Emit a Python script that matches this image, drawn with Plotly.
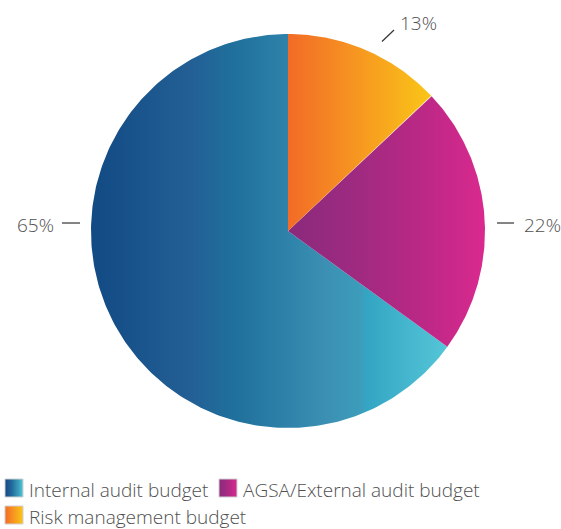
import numpy as np
import plotly.graph_objects as go

# Budget split (percent)
labels = ["Internal audit budget", "AGSA/External audit budget", "Risk management budget"]
values = [65, 22, 13]

# Horizontal gradient colour stops for each slice
scales = [
    [[0, "#124a84"], [0.28, "#235f95"], [0.40, "#1f709c"], [0.53, "#2c80a8"],
     [0.66, "#3b90b3"], [0.76, "#3d9dbb"], [0.77, "#33a5c3"], [1, "#55c6d7"]],
    [[0, "#8a2a7c"], [0.34, "#9e2a80"], [0.67, "#ba2885"], [1, "#d9298f"]],
    [[0, "#f26b27"], [0.40, "#f68f22"], [0.70, "#f8aa1d"], [1, "#fac617"]],
]

W, H = 561, 529
CX, CY, R = 288, 231, 197
FONT = dict(family="Open Sans", size=19, color="#505050", weight=300)

fig = go.Figure()

# Slices run counter-clockwise from 12 o'clock, in data order
total = sum(values)
start = 0.0
for lab, val, cs in zip(labels, values, scales):
    sweep = 2 * np.pi * val / total
    th = np.linspace(start, start - sweep, 240)  # clockwise-from-top angle, decreasing
    xs = np.concatenate([[CX], CX + R * np.sin(th), [CX]])
    ys = np.concatenate([[CY], CY - R * np.cos(th), [CY]])
    fig.add_trace(go.Scatter(
        x=xs, y=ys, mode="lines", fill="toself",
        line=dict(width=0),
        fillgradient=dict(type="horizontal", colorscale=cs),
        name=lab, showlegend=False, hoverinfo="name",
    ))
    start -= sweep

# Percentage labels with short leader lines
pct_pos = {0: (35, 224.5), 1: (542, 224.5), 2: (418.5, 23)}
leaders = {0: (62, 223, 80, 223), 1: (497, 223, 514, 223), 2: (382, 41.5, 394, 30)}
for i, val in enumerate(values):
    x, y = pct_pos[i]
    fig.add_annotation(x=x, y=y, text=f"{val}%", showarrow=False,
                       xanchor="center", yanchor="middle", font=FONT)
    x0, y0, x1, y1 = leaders[i]
    fig.add_shape(type="line", x0=x0, y0=y0, x1=x1, y1=y1,
                  line=dict(color="#333333", width=1.2))

# Legend: gradient swatch + label
legend_pos = [(5, 479), (219, 479), (5, 506)]
S = 18
for (lx, ly), lab, cs in zip(legend_pos, labels, scales):
    fig.add_trace(go.Scatter(
        x=[lx, lx + S, lx + S, lx, lx], y=[ly, ly, ly + S, ly + S, ly],
        mode="lines", fill="toself",
        line=dict(width=1, color="#d0d0d0"),
        fillgradient=dict(type="horizontal", colorscale=cs),
        showlegend=False, hoverinfo="skip",
    ))
    fig.add_annotation(x=lx + S + 4, y=ly + S / 2 + 1.5, text=lab, showarrow=False,
                       xanchor="left", yanchor="middle", font=FONT)

fig.update_layout(
    width=W, height=H,
    margin=dict(l=0, r=0, t=0, b=0),
    paper_bgcolor="white", plot_bgcolor="white",
    xaxis=dict(range=[0, W], visible=False, fixedrange=True),
    yaxis=dict(range=[H, 0], visible=False, fixedrange=True),
    showlegend=False,
)

fig.write_html("out.html")
